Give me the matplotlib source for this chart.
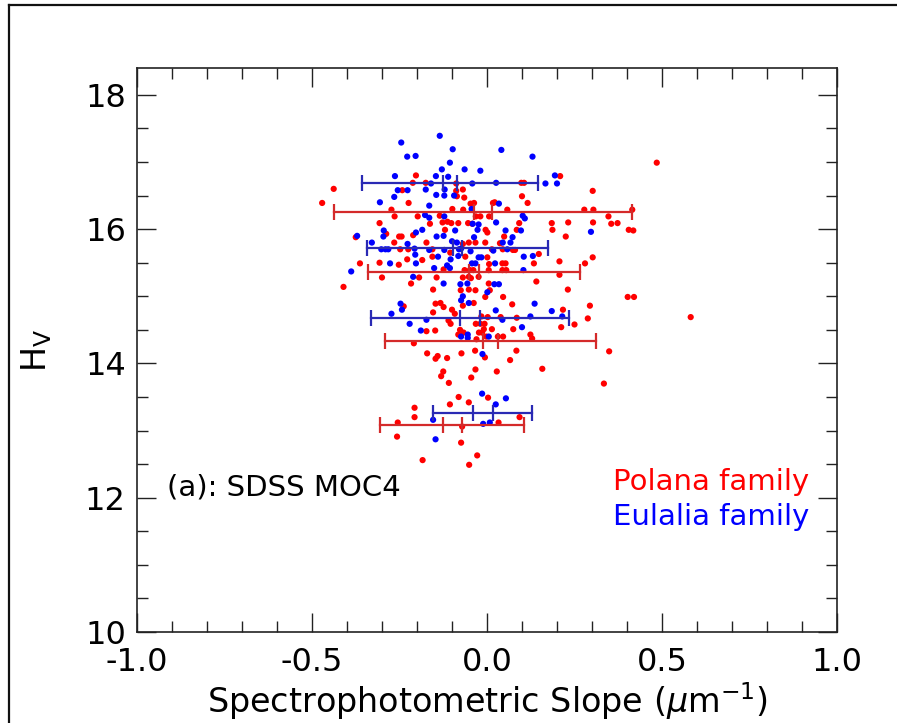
import matplotlib
matplotlib.use("Agg")
import matplotlib.pyplot as plt
from matplotlib.lines import Line2D
from matplotlib.ticker import MultipleLocator

plt.rcParams['font.family'] = ['DejaVu Sans']

# ---------------- data ----------------
eulalia_slope = [
    -0.135, -0.245, -0.228, -0.204, -0.098, -0.106, -0.129, -0.263, -0.146, -0.111,
    -0.160, -0.255, -0.227, -0.175, -0.121, -0.145, -0.122, -0.265, -0.094, -0.306,
    -0.165, -0.177, -0.165, -0.122, -0.295, -0.185, -0.091, -0.371, -0.296, -0.203,
    -0.144, -0.124, -0.329, -0.227, -0.100, -0.302, -0.290, -0.282, -0.207, -0.165,
    -0.122, -0.205, -0.140, -0.082, -0.104, -0.277, -0.203, -0.114, -0.151, -0.106,
    -0.388, -0.211, -0.124,
    0.041, 0.130, -0.064, -0.019, -0.042, 0.026, 0.167, 0.194, 0.200, 0.034,
    -0.044, 0.102, 0.108, 0.026, -0.024, -0.041, -0.027, 0.053, 0.097, -0.037,
    0.073, -0.086, 0.045, 0.067, -0.080, -0.074, -0.047, 0.018, 0.058, -0.024,
    -0.016, 0.105, 0.131, 0.297, -0.043, -0.033, 0.023, 0.104, -0.076, -0.056,
    0.021, 0.034,
    0.136, 0.185, 0.215, 0.124, 0.044, 0.100, 0.054, 0.001, -0.074, -0.069,
    -0.052, 0.025, -0.074, -0.055, -0.055, 0.005, -0.013, -0.014, 0.025, -0.011,
    0.008, -0.247, -0.243, -0.273, -0.173, -0.221, -0.189, -0.154, -0.147,
]
eulalia_hv = [
    17.39, 17.29, 17.08, 17.09, 17.19, 16.99, 16.89, 16.79, 16.79, 16.78,
    16.68, 16.58, 16.58, 16.59, 16.59, 16.51, 16.50, 16.48, 16.50, 16.40,
    16.35, 16.21, 16.17, 16.19, 15.98, 15.99, 15.98, 15.90, 15.89, 15.95,
    15.89, 15.90, 15.80, 15.78, 15.82, 15.70, 15.70, 15.70, 15.71, 15.69,
    15.69, 15.62, 15.59, 15.60, 15.55, 15.49, 15.49, 15.46, 15.42, 15.42,
    15.37, 15.29, 15.19,
    17.18, 17.08, 16.89, 16.87, 16.68, 16.69, 16.68, 16.80, 16.68, 16.38,
    16.30, 16.20, 16.16, 16.10, 16.07, 16.08, 15.99, 15.98, 15.98, 15.88,
    15.88, 15.80, 15.80, 15.80, 15.70, 15.71, 15.67, 15.68, 15.70, 15.58,
    15.58, 15.59, 15.60, 15.96, 15.49, 15.49, 15.49, 15.39, 15.18, 15.19,
    15.18, 15.18,
    14.89, 14.78, 14.70, 14.70, 14.65, 14.54, 13.48, 15.06, 14.94, 15.00,
    14.90, 14.79, 14.40, 14.43, 14.38, 14.40, 14.14, 13.55, 13.39, 13.10,
    13.12, 14.89, 14.80, 14.74, 14.65, 14.59, 14.49, 13.16, 12.87,
]

polana_slope = [
    -0.438, -0.471, -0.203, -0.212, -0.175, -0.088, -0.242, -0.088, -0.086, -0.224,
    -0.273, -0.264, -0.198, -0.135, -0.099, -0.307, -0.163, -0.127, -0.113, -0.102,
    -0.288, -0.211, -0.120, -0.251, -0.244, -0.375, -0.265, -0.173, -0.248, -0.225,
    -0.156, -0.156, -0.105, -0.307, -0.363, -0.228, -0.252, -0.185, -0.124, -0.300,
    -0.194, -0.144, -0.217, -0.410, -0.154,
    0.098, 0.106, 0.209, -0.069, 0.302, -0.065, 0.100, -0.047, -0.037, 0.017,
    0.022, 0.116, -0.068, 0.058, 0.278, 0.304, -0.032, -0.019, 0.006, -0.082,
    -0.054, -0.042, 0.092, 0.185, 0.232, 0.303, -0.004, 0.001, 0.085, 0.187,
    0.049, 0.225, -0.005, 0.037, -0.052, -0.033, -0.069, 0.014, 0.045, 0.080,
    0.074, 0.148, 0.302, 0.001, -0.062, 0.134, 0.207, 0.280, 0.044, 0.053,
    0.006, -0.064, -0.049, -0.039, 0.005, 0.044, 0.055, 0.207, -0.069, -0.052,
    -0.024, -0.046, 0.141, 0.005, -0.075, -0.052, -0.033, 0.231,
    0.485, 0.415, 0.347, 0.355, 0.373, 0.405, 0.418, 0.402, 0.420, 0.582,
    0.349, 0.334,
    0.008, -0.005, 0.046, -0.038, -0.069, 0.072, 0.294, 0.217, -0.016, 0.002,
    0.039, 0.085, 0.288, -0.032, -0.019, -0.007, 0.250, 0.075, 0.212, -0.077,
    -0.067, -0.009, 0.014, -0.023, -0.014, -0.082, -0.030, -0.002, 0.031, 0.046,
    0.124, 0.129, -0.034, 0.084, -0.073, -0.006, 0.066, -0.033, 0.028, 0.158,
    -0.045, 0.003, -0.081, -0.052, 0.093, 0.033, -0.071, -0.074, -0.028, -0.051,
    -0.238, -0.147, -0.133, -0.124, -0.100, -0.092, -0.154, -0.110, -0.104, -0.173,
    -0.148, -0.209, -0.171, -0.141, -0.147, -0.114, -0.125, -0.131, -0.109, -0.106,
    -0.207, -0.207, -0.255, -0.257, -0.184,
]
polana_hv = [
    16.60, 16.39, 16.80, 16.69, 16.69, 16.68, 16.58, 16.57, 16.49, 16.39,
    16.29, 16.19, 16.19, 16.20, 16.30, 16.09, 16.08, 16.10, 16.11, 16.09,
    15.93, 15.91, 15.99, 15.89, 15.89, 15.88, 15.80, 15.80, 15.70, 15.70,
    15.70, 15.59, 15.65, 15.50, 15.49, 15.55, 15.47, 15.54, 15.40, 15.28,
    15.28, 15.28, 15.19, 15.14, 15.10,
    16.69, 16.69, 16.79, 16.59, 16.57, 16.47, 16.49, 16.38, 16.39, 16.39,
    16.40, 16.39, 16.29, 16.29, 16.29, 16.29, 16.19, 16.19, 16.19, 16.09,
    16.09, 16.08, 16.09, 16.09, 16.10, 16.10, 15.99, 15.95, 15.99, 15.99,
    15.89, 15.89, 15.80, 15.79, 15.80, 15.80, 15.78, 15.70, 15.70, 15.69,
    15.69, 15.63, 15.58, 15.58, 15.59, 15.49, 15.52, 15.49, 15.49, 15.49,
    15.48, 15.39, 15.39, 15.39, 15.39, 15.39, 15.39, 15.32, 15.28, 15.29,
    15.29, 15.27, 15.22, 15.19, 15.09, 15.10, 15.09, 15.10,
    16.99, 16.29, 16.19, 16.08, 16.09, 15.99, 15.98, 14.99, 14.99, 14.69,
    14.18, 13.70,
    15.09, 14.99, 14.99, 14.90, 14.86, 14.88, 14.86, 14.80, 14.70, 14.69,
    14.69, 14.68, 14.67, 14.59, 14.59, 14.59, 14.58, 14.51, 14.54, 14.50,
    14.46, 14.51, 14.51, 14.46, 14.46, 14.43, 14.36, 14.40, 14.40, 14.40,
    14.43, 14.37, 14.19, 14.19, 14.15, 14.09, 14.05, 13.91, 13.88, 13.92,
    13.79, 13.49, 13.50, 13.42, 13.20, 13.12, 13.06, 12.82, 12.63, 12.49,
    14.85, 14.89, 14.90, 14.84, 14.80, 14.74, 14.76, 14.64, 14.59, 14.48,
    14.49, 14.30, 14.15, 14.11, 14.07, 14.08, 13.88, 13.81, 13.71, 13.39,
    13.34, 13.20, 13.12, 12.91, 12.56,
]

# binned statistics: H bin centre, lower/upper extent, two inner markers
polana_bin_hv = [16.26, 15.36, 14.34, 13.09]
polana_bin_lo = [-0.438, -0.339, -0.291, -0.305]
polana_bin_hi = [0.415, 0.267, 0.310, 0.107]
polana_bin_m1 = [-0.038, -0.051, -0.011, -0.125]
polana_bin_m2 = [0.013, -0.023, 0.031, -0.072]

eulalia_bin_hv = [16.69, 15.72, 14.67, 13.26]
eulalia_bin_lo = [-0.358, -0.344, -0.332, -0.153]
eulalia_bin_hi = [0.145, 0.175, 0.235, 0.128]
eulalia_bin_m1 = [-0.126, -0.098, -0.077, -0.041]
eulalia_bin_m2 = [-0.087, -0.072, -0.020, 0.016]

# ---------------- figure ----------------
W, H = 897, 723
fig = plt.figure(figsize=(W / 100, H / 100), dpi=100)
ax = fig.add_axes([137 / W, 1 - 632 / H, 700 / W, 564 / H])

RED = '#ff0000'
BLUE = '#0000ff'
RED_BAR = '#d42a2a'
BLUE_BAR = '#2a2ab4'

ax.scatter(polana_slope, polana_hv, s=20, color=RED, edgecolors='none', zorder=3)
ax.scatter(eulalia_slope, eulalia_hv, s=20, color=BLUE, edgecolors='none', zorder=3)

def draw_bins(hv, lo, hi, m1, m2, col):
    for y, a, b, c, d in zip(hv, lo, hi, m1, m2):
        ax.plot([a, b], [y, y], color=col, lw=1.6, zorder=4)
        ax.plot([a, b, c, d], [y, y, y, y], ls='none', marker='|',
                markersize=12, markeredgewidth=1.6, color=col, zorder=4)

draw_bins(polana_bin_hv, polana_bin_lo, polana_bin_hi, polana_bin_m1, polana_bin_m2, RED_BAR)
draw_bins(eulalia_bin_hv, eulalia_bin_lo, eulalia_bin_hi, eulalia_bin_m1, eulalia_bin_m2, BLUE_BAR)

ax.set_xlim(-1.0, 1.0)
ax.set_ylim(10, 18.4)
ax.xaxis.set_major_locator(MultipleLocator(0.5))
ax.xaxis.set_minor_locator(MultipleLocator(0.1))
ax.yaxis.set_major_locator(MultipleLocator(2))
ax.yaxis.set_minor_locator(MultipleLocator(0.5))
ax.xaxis.set_major_formatter(matplotlib.ticker.FormatStrFormatter('%.1f'))
ax.tick_params(which='both', direction='in', top=True, right=True, width=1.0,
               color='#222222')
ax.tick_params(which='major', length=14, labelsize=23)
ax.tick_params(axis='x', which='major', pad=10.5)
ax.tick_params(axis='y', which='major', pad=8)
ax.tick_params(which='minor', length=8)
for sp in ax.spines.values():
    sp.set_linewidth(1.2)
    sp.set_color('#222222')

ax.set_xlabel(r'Spectrophotometric Slope ($\mu$m$^{-1}$)', fontsize=24, labelpad=2)
ax.set_ylabel(r'H$_\mathrm{V}$', fontsize=24, labelpad=22)

ax.text(0.043, 0.257, '(a): SDSS MOC4', transform=ax.transAxes, fontsize=21,
        ha='left', va='center', color='black')
ax.text(0.961, 0.266, 'Polana family', transform=ax.transAxes, fontsize=21,
        ha='right', va='center', color=RED)
ax.text(0.961, 0.204, 'Eulalia family', transform=ax.transAxes, fontsize=21,
        ha='right', va='center', color=BLUE)

# outer frame of the panel
fig.add_artist(Line2D([9 / W, 9 / W], [0, 1 - 5 / H], transform=fig.transFigure,
                      color='#111111', lw=1.6))
fig.add_artist(Line2D([9 / W, 1], [1 - 5 / H, 1 - 5 / H], transform=fig.transFigure,
                      color='#111111', lw=1.6))

fig.savefig('out.png', dpi=100)
